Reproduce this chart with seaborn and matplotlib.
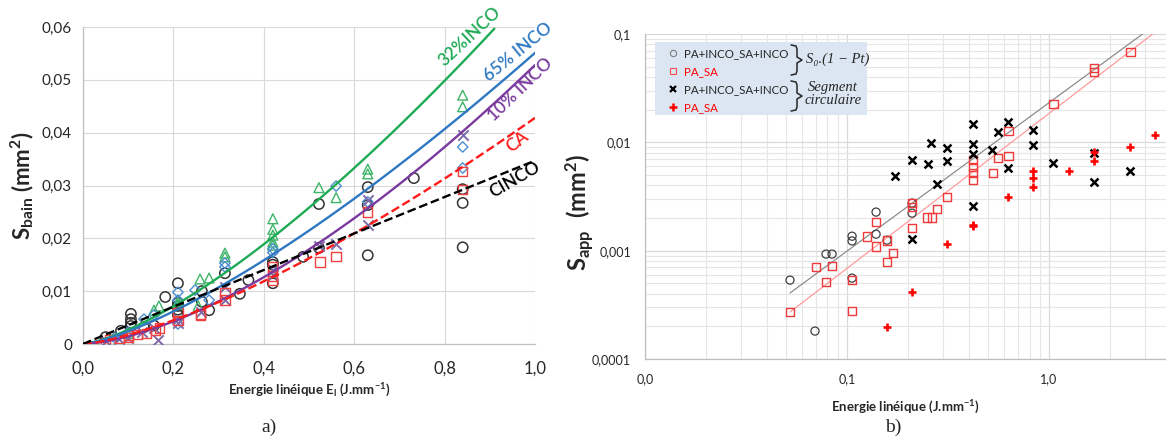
import numpy as np
import matplotlib
matplotlib.use('Agg')
import matplotlib.pyplot as plt
import seaborn as sns
from matplotlib.lines import Line2D
from matplotlib.patches import Rectangle
from matplotlib.ticker import FuncFormatter, LogLocator, MultipleLocator, NullFormatter

# ---------- a) S_bain = f(E_l) ----------
cinco_x = [0.05, 0.084, 0.106, 0.106, 0.106, 0.106, 0.135, 0.157, 0.182, 0.21, 0.21, 0.21, 0.21, 0.21,
           0.263, 0.263, 0.279, 0.314, 0.347, 0.366, 0.42, 0.42, 0.42, 0.487, 0.522, 0.522,
           0.63, 0.63, 0.63, 0.732, 0.84, 0.84, 0.84]
cinco_y = [0.0013, 0.0025, 0.0057, 0.0047, 0.004, 0.0034, 0.0032, 0.0035, 0.0089, 0.0115, 0.0078, 0.0072, 0.0065, 0.0055,
           0.0100, 0.008, 0.0064, 0.0134, 0.0095, 0.0121, 0.0155, 0.015, 0.0115, 0.0165, 0.0265, 0.0182,
           0.0297, 0.0263, 0.0168, 0.0314, 0.0293, 0.0267, 0.0183]

inco32_x = [0.1, 0.157, 0.168, 0.21, 0.21, 0.259, 0.279, 0.255, 0.314, 0.314, 0.42, 0.42, 0.42, 0.42, 0.42,
            0.522, 0.56, 0.63, 0.63, 0.84, 0.84]
inco32_y = [0.002, 0.0064, 0.0072, 0.0080, 0.0075, 0.0123, 0.0125, 0.0072, 0.0172, 0.0165, 0.0237, 0.0217, 0.0206, 0.0193, 0.0187,
            0.0296, 0.0277, 0.0331, 0.0322, 0.0471, 0.0449]

inco65_x = [0.07, 0.1, 0.135, 0.157, 0.21, 0.21, 0.21, 0.248, 0.279, 0.314, 0.314, 0.42, 0.42, 0.56, 0.63, 0.84, 0.84]
inco65_y = [0.0012, 0.0022, 0.0047, 0.0055, 0.0098, 0.0083, 0.0038, 0.0102, 0.0083, 0.0153, 0.0146, 0.018, 0.0173,
            0.0299, 0.0269, 0.0373, 0.0333]

inco10_x = [0.05, 0.08, 0.1, 0.13, 0.157, 0.166, 0.21, 0.21, 0.26, 0.314, 0.314, 0.42, 0.42, 0.522, 0.56, 0.63, 0.63, 0.84]
inco10_y = [0.0006, 0.0009, 0.0012, 0.0022, 0.0030, 0.0008, 0.004, 0.0048, 0.0060, 0.0108, 0.0083, 0.014, 0.0130,
            0.0185, 0.019, 0.0273, 0.0225, 0.0396]

ca_x = [0.05, 0.06, 0.08, 0.1, 0.1, 0.12, 0.14, 0.16, 0.17, 0.21, 0.21, 0.26, 0.26, 0.314, 0.314, 0.42, 0.42, 0.42,
        0.524, 0.56, 0.63, 0.84, 0.84]
ca_y = [0.0002, 0.0008, 0.001, 0.0012, 0.0016, 0.0018, 0.002, 0.0026, 0.0030, 0.0045, 0.0060, 0.0055, 0.0057, 0.0098,
        0.0083, 0.0146, 0.0129, 0.012, 0.0155, 0.0165, 0.025, 0.0326, 0.0293]

# power trend lines  y = a * x^b
fit_names = ['32%INCO', '65% INCO', '10% INCO', 'CA', 'CINCO']
fit_a = [0.0681, 0.0551, 0.0528, 0.0428, 0.0347]
fit_b = [1.40, 1.36, 1.56, 1.40, 0.99]
fit_xmax = [0.91, 1.0, 1.0, 1.0, 1.0]

# ---------- b) S_app = f(E_l), log-log ----------
s0_inco_x = [0.0522, 0.0694, 0.0787, 0.0843, 0.1059, 0.1059, 0.1059, 0.1392, 0.1392, 0.1578, 0.2098, 0.2098]
s0_inco_y = [0.000535, 0.000181, 0.00093, 0.00093, 0.00136, 0.00123, 0.000558, 0.00227, 0.00142, 0.00125, 0.00275, 0.00222]

s0_pasa_x = [0.0522, 0.0702, 0.0787, 0.0843, 0.1059, 0.1059, 0.1256, 0.1392, 0.1392, 0.1578, 0.1578, 0.169,
             0.2098, 0.2098, 0.2098, 0.2489, 0.2635, 0.279, 0.3126, 0.4205, 0.4205, 0.4205, 0.4205, 0.528,
             0.559, 0.627, 0.627, 1.047, 1.67, 1.67, 2.52]
s0_pasa_y = [0.000271, 0.000706, 0.000513, 0.000721, 0.000535, 0.000277, 0.00136, 0.00184, 0.0011, 0.00125, 0.000785, 0.00095,
             0.00162, 0.00275, 0.00253, 0.00204, 0.00204, 0.00242, 0.00313, 0.00686, 0.00591, 0.0052, 0.00449, 0.0052,
             0.00716, 0.0127, 0.00747, 0.0226, 0.0485, 0.0446, 0.0682]

seg_inco_x = [0.1729, 0.2098, 0.2518, 0.2605, 0.279, 0.3126, 0.3126, 0.2098, 0.4205, 0.4205, 0.4205, 0.4205,
              0.522, 0.559, 0.627, 0.627, 0.833, 0.833, 1.047, 1.67, 1.67, 2.52]
seg_inco_y = [0.00489, 0.00686, 0.0063, 0.00985, 0.00412, 0.00886, 0.00672, 0.00128, 0.00258, 0.01476, 0.00965, 0.0078,
              0.00849, 0.01245, 0.0154, 0.00579, 0.013, 0.00944, 0.00644, 0.00796, 0.0043, 0.00543]

seg_pasa_x = [0.1578, 0.2098, 0.3126, 0.4205, 0.4205, 0.627, 0.833, 0.833, 0.833, 1.256, 1.67, 1.67, 2.52, 3.35]
seg_pasa_y = [0.000197, 0.000415, 0.00115, 0.00172, 0.00168, 0.00313, 0.00543, 0.00468, 0.00387, 0.00543,
              0.00813, 0.00672, 0.00905, 0.01168]

s0_fit_a = [0.02324, 0.01849]
s0_fit_b = [1.37, 1.43]

W, H = 1166, 441
sns.set_theme(style='white')
plt.rcParams['font.family'] = ['Lato', 'DejaVu Sans']
plt.rcParams['mathtext.fontset'] = 'custom'
plt.rcParams['mathtext.rm'] = 'Lato'
plt.rcParams['mathtext.bf'] = 'Lato:bold'
plt.rcParams['mathtext.it'] = 'Lato:italic'

grid_c = '#D9D9D9'
txt_c = '#262626'

fig = plt.figure(figsize=(W / 100, H / 100), dpi=100)
ax1 = fig.add_axes([83 / W, 1 - 344 / H, (535 - 83) / W, (344 - 27) / H])
ax2 = fig.add_axes([645 / W, 1 - 359 / H, (1166 - 645) / W, (359 - 34) / H])


def open_pts(ax, x, y, marker, s, c, lw):
    sns.scatterplot(x=x, y=y, ax=ax, marker=marker, s=s, facecolor='none', edgecolor=c, linewidth=lw, zorder=3)


# ----- panel a
c_green, c_blue, c_purple, c_red = '#1FAA55', '#2E78C2', '#7A3A9E', '#FF1A1A'
open_pts(ax1, cinco_x, cinco_y, 'o', 55, '#333333', 1.1)
open_pts(ax1, inco32_x, inco32_y, '^', 50, '#3DB468', 1.0)
open_pts(ax1, inco65_x, inco65_y, 'D', 28, '#4A8ED0', 1.0)
sns.scatterplot(x=inco10_x, y=inco10_y, ax=ax1, marker='x', s=55, color='#7D6AA8', linewidth=1.4, zorder=3)
open_pts(ax1, ca_x, ca_y, 's', 45, '#F04040', 1.0)

fit_colors = [c_green, c_blue, c_purple, c_red, 'black']
fit_styles = ['-', '-', '-', '--', '--']
for a, b, xm, c, ls in zip(fit_a, fit_b, fit_xmax, fit_colors, fit_styles):
    xs = np.linspace(0, xm, 120)
    sns.lineplot(x=xs, y=a * xs ** b, ax=ax1, color=c, linewidth=1.7, linestyle=ls, zorder=4)

label_pos = [(0.856, 0.0581, 43), (0.962, 0.0553, 39), (0.967, 0.0481, 44), (0.962, 0.0382, 38), (0.956, 0.031, 30)]
for name, c, (lx, ly, rot) in zip(fit_names, fit_colors, label_pos):
    ax1.text(lx, ly, name, color=c, fontsize=12.5, fontweight='semibold', rotation=rot, ha='center', va='center',
             rotation_mode='anchor', clip_on=False)

ax1.set_xlim(0, 1.0)
ax1.set_ylim(0, 0.06)
ax1.xaxis.set_major_locator(MultipleLocator(0.2))
ax1.yaxis.set_major_locator(MultipleLocator(0.01))
ax1.xaxis.set_major_formatter(FuncFormatter(lambda v, p: f'{v:.1f}'.replace('.', ',')))
ax1.yaxis.set_major_formatter(FuncFormatter(lambda v, p: '0' if abs(v) < 1e-9 else f'{v:.2f}'.replace('.', ',')))
ax1.grid(True, color=grid_c, linewidth=0.8)
ax1.tick_params(axis='both', length=4, width=0.8, color='#BFBFBF', colors=txt_c, pad=4)
ax1.tick_params(axis='y', labelsize=11)
ax1.tick_params(axis='x', labelsize=12, pad=8)
ax1.set_xlabel(r'Energie linéique $\mathbf{E_l}$ (J.mm$^{\mathbf{-1}}$)', fontsize=9.5, fontweight='bold',
               color=txt_c, labelpad=4)
ax1.set_ylabel(r'$\mathbf{S_{bain}}$ $\mathbf{(mm^2)}$', fontsize=16, color=txt_c, labelpad=4)

# ----- panel b
open_pts(ax2, s0_inco_x, s0_inco_y, 'o', 34, '#404040', 0.9)
open_pts(ax2, s0_pasa_x, s0_pasa_y, 's', 40, '#F03A3A', 1.0)
sns.scatterplot(x=seg_inco_x, y=seg_inco_y, ax=ax2, marker='x', s=32, color='black', linewidth=1.8, zorder=3)
sns.scatterplot(x=seg_pasa_x, y=seg_pasa_y, ax=ax2, marker='+', s=40, color='#FF0000', linewidth=1.9, zorder=3)

for a, b, c in zip(s0_fit_a, s0_fit_b, ['#8C8C8C', '#FF9A9A']):
    xs = np.geomspace(0.0522, 3.4, 100)
    sns.lineplot(x=xs, y=a * xs ** b, ax=ax2, color=c, linewidth=0.9, zorder=2)


def log_label(v, p):
    k = max(int(round(-np.log10(v))), 0)
    return f'{v:.{k}f}'.replace('.', ',')


ax2.set_xscale('log')
ax2.set_yscale('log')
ax2.set_xlim(0.01, 3.79)
ax2.set_ylim(0.0001, 0.1)
ax2.xaxis.set_major_locator(LogLocator(base=10, numticks=10))
ax2.yaxis.set_major_locator(LogLocator(base=10, numticks=10))
ax2.xaxis.set_minor_locator(LogLocator(base=10, subs=np.arange(2, 10), numticks=20))
ax2.yaxis.set_minor_locator(LogLocator(base=10, subs=np.arange(2, 10), numticks=20))
ax2.xaxis.set_minor_formatter(NullFormatter())
ax2.yaxis.set_minor_formatter(NullFormatter())
ax2.xaxis.set_major_formatter(FuncFormatter(lambda v, p: f'{v:.1f}'.replace('.', ',')))
ax2.yaxis.set_major_formatter(FuncFormatter(log_label))
ax2.grid(True, which='major', color=grid_c, linewidth=0.9)
ax2.grid(True, which='minor', color='#E6E6E6', linewidth=0.8)
ax2.tick_params(axis='both', which='major', length=4, width=0.8, color='#BFBFBF', colors=txt_c, labelsize=9, pad=6)
ax2.tick_params(axis='both', which='minor', length=0)
ax2.set_xlabel(r'Energie linéique (J.mm$^{\mathbf{-1}}$)', fontsize=9.5, fontweight='bold', color=txt_c, labelpad=10)
ax2.set_ylabel(r'$\mathbf{S_{app}}$  $\mathbf{(mm^2)}$', fontsize=17, color=txt_c)
ax2.yaxis.set_label_coords(-0.095, 0.45)

for ax in (ax1, ax2):
    for side in ('top', 'right'):
        ax.spines[side].set_visible(False)
    for side in ('left', 'bottom'):
        ax.spines[side].set_color('#BFBFBF')
        ax.spines[side].set_linewidth(0.9)

# legend box of panel b
ax2.add_patch(Rectangle(((655 - 645) / 521, (359 - 115) / 325), 212 / 521, 73 / 325,
                        transform=ax2.transAxes, facecolor='#DCE6F2', edgecolor='none', zorder=5))
handles = [Line2D([], [], ls='', marker='o', ms=4.5, mfc='none', mec='#7F7F7F', mew=0.8),
           Line2D([], [], ls='', marker='s', ms=4.5, mfc='none', mec='#FF5050', mew=0.8),
           Line2D([], [], ls='', marker='x', ms=4.5, color='black', mew=1.6),
           Line2D([], [], ls='', marker='+', ms=5.5, color='#FF0000', mew=1.8)]
labels = ['PA+INCO_SA+INCO', 'PA_SA', 'PA+INCO_SA+INCO', 'PA_SA']
leg = ax2.legend(handles, labels, loc='upper left', bbox_to_anchor=((662 - 645) / 521, (359 - 43) / 325),
                 frameon=False, fontsize=8.3, handlelength=1.0, handletextpad=0.5, labelspacing=0.6,
                 borderpad=0.45, borderaxespad=0)
leg.set_zorder(6)
for t, c in zip(leg.get_texts(), [txt_c, '#FF0000', txt_c, '#FF0000']):
    t.set_color(c)


def brace(x0, y_top, y_bot, tip):
    ym = (y_top + y_bot) / 2
    pts = [(x0, y_top), (x0 + 5, y_top + 1), (x0 + 6, y_top + 4), (x0 + 6, ym - 3), (tip, ym),
           (x0 + 6, ym + 3), (x0 + 6, y_bot - 4), (x0 + 5, y_bot - 1), (x0, y_bot)]
    fig.add_artist(Line2D([p[0] / W for p in pts], [1 - p[1] / H for p in pts],
                          color=txt_c, linewidth=1.1, zorder=7))


brace(791, 45, 75, 802)
brace(791, 81, 111, 802)
serif = ['Liberation Serif', 'DejaVu Serif']
fig.text(806 / W, 1 - 59 / H, 'S₀.(1 − Pt)', family=serif, style='italic', fontsize=10.5,
         color=txt_c, ha='left', va='center', zorder=7)
fig.text(833 / W, 1 - 88 / H, 'Segment', family=serif, style='italic', fontsize=10.5,
         color=txt_c, ha='center', va='center', zorder=7)
fig.text(833 / W, 1 - 101 / H, 'circulaire', family=serif, style='italic', fontsize=10.5,
         color=txt_c, ha='center', va='center', zorder=7)

fig.text(269 / W, 1 - 427 / H, 'a)', family=serif, fontsize=14, color=txt_c, ha='center', va='center')
fig.text(893 / W, 1 - 427 / H, 'b)', family=serif, fontsize=14, color=txt_c, ha='center', va='center')

fig.savefig('out.png', dpi=100)
